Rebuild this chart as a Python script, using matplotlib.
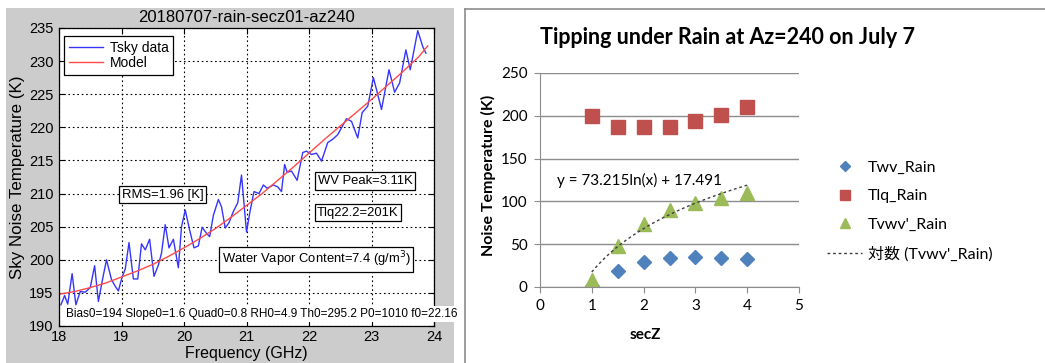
import numpy as np
import matplotlib.pyplot as plt
from matplotlib.lines import Line2D
from matplotlib.patches import Rectangle

# left panel: measured sky noise vs frequency
freq = [18.03, 18.09, 18.14, 18.21, 18.27, 18.34, 18.42, 18.50, 18.57, 18.63,
        18.70, 18.76, 18.84, 18.90, 18.95, 19.01, 19.06, 19.12, 19.19, 19.26,
        19.32, 19.38, 19.45, 19.52, 19.59, 19.64, 19.70, 19.76, 19.83, 19.91,
        19.96, 20.02, 20.09, 20.16, 20.23, 20.29, 20.36, 20.41, 20.47, 20.55,
        20.60, 20.66, 20.72, 20.79, 20.86, 20.92, 21.00, 21.06, 21.12, 21.20,
        21.27, 21.33, 21.43, 21.50, 21.56, 21.61, 21.65, 21.72, 21.81, 21.90,
        21.96, 22.04, 22.12, 22.20, 22.30, 22.38, 22.46, 22.60, 22.68, 22.78,
        22.85, 22.94, 23.03, 23.08, 23.16, 23.28, 23.37, 23.45, 23.55, 23.62,
        23.74, 23.82, 23.87]
tsky = [193.2, 194.6, 193.3, 197.9, 193.2, 195.2, 195.1, 195.8, 199.1, 193.7,
        197.2, 200.0, 197.0, 196.0, 195.3, 197.4, 198.6, 202.6, 197.1, 197.1,
        202.4, 201.5, 203.1, 197.5, 199.2, 201.0, 205.3, 201.8, 203.1, 198.8,
        205.0, 207.5, 204.5, 201.8, 202.1, 204.9, 204.0, 203.5, 206.7, 209.1,
        208.0, 204.8, 205.6, 207.3, 208.6, 212.8, 204.2, 207.5, 210.3, 210.0,
        211.3, 210.8, 211.3, 211.0, 210.3, 214.4, 213.2, 213.4, 212.0, 216.2,
        216.4, 215.9, 216.1, 214.9, 217.7, 218.2, 218.9, 221.3, 220.9, 218.4,
        222.2, 223.2, 227.5, 225.7, 222.7, 228.7, 225.3, 226.7, 231.7, 228.7,
        234.6, 232.2, 231.2]
model_freq = [18.0, 18.25, 18.5, 18.75, 19.0, 19.25, 19.5, 19.75, 20.0, 20.25,
              20.5, 20.75, 21.0, 21.25, 21.5, 21.75, 22.0, 22.25, 22.5, 22.75,
              23.0, 23.25, 23.5, 23.75, 23.9]
model_t = [194.8, 195.2, 195.8, 196.5, 197.4, 198.3, 199.3, 200.5, 201.8, 203.2,
           204.7, 206.4, 208.2, 210.0, 212.0, 214.0, 216.1, 218.2, 220.2, 222.2,
           224.2, 226.3, 228.4, 230.6, 232.3]

# right panel: tipping results
secz = [1, 1.5, 2, 2.5, 3, 3.5, 4]
twv = [1, 19, 29, 34, 35, 34, 33]
tlq = [200, 187, 187, 187, 194, 201, 210]
tvwv = [8, 48, 74, 90, 98.5, 104, 110]
log_a, log_b = 73.215, 17.491

W, H = 1045, 363
fig = plt.figure(figsize=(W / 100, H / 100), dpi=100)
fig.patch.set_facecolor('white')

# gray matlab-like figure panel
fig.patches.append(Rectangle((6 / W, 0), 448 / W, 1 - 8 / H, transform=fig.transFigure,
                             facecolor='#cccccc', edgecolor='none', zorder=-10))
# border of excel chart
fig.lines.append(Line2D([465 / W, 465 / W], [0, 1 - 9 / H], transform=fig.transFigure,
                        color='#8c8c8c', lw=1.2))
fig.lines.append(Line2D([465 / W, 1], [1 - 9 / H, 1 - 9 / H], transform=fig.transFigure,
                        color='#8c8c8c', lw=1.2))

mfont = ['Liberation Sans', 'DejaVu Sans']

ax = fig.add_axes([59 / W, 1 - 326 / H, 375 / W, 298 / H])
ax.plot(freq, tsky, color='#3535ff', lw=1, label='Tsky data')
ax.plot(model_freq, model_t, color='#ff4a4a', lw=1, label='Model')
ax.set_xlim(18, 24)
ax.set_ylim(190, 235)
ax.set_xticks(range(18, 25))
ax.set_yticks(range(190, 236, 5))
ax.grid(True, color='black', linestyle=(0, (1.5, 2.5)), lw=0.8)
ax.tick_params(direction='in', top=True, right=True, length=4, labelsize=10.5)
ax.tick_params(axis='x', pad=3)
ax.tick_params(axis='y', pad=4)
for lab in ax.get_xticklabels() + ax.get_yticklabels():
    lab.set_family(mfont)
for s in ax.spines.values():
    s.set_color('black')
    s.set_linewidth(0.9)
ax.set_title('20180707-rain-secz01-az240', fontsize=12, family=mfont, pad=4)
ax.set_xlabel('Frequency (GHz)', fontsize=11.5, family=mfont, labelpad=1)
ax.set_ylabel('Sky Noise Temperature (K)', fontsize=12.2, family=mfont, labelpad=3)
leg = ax.legend(loc='upper left', bbox_to_anchor=(0.013, 0.973), borderaxespad=0,
                fancybox=False, edgecolor='black', framealpha=1, handlelength=2.5,
                handletextpad=0.45, labelspacing=0.1, borderpad=0.35,
                prop={'family': mfont, 'size': 10})
leg.get_frame().set_linewidth(0.9)

box = dict(boxstyle='square,pad=0.2', facecolor='white', edgecolor='black', lw=0.9)
ax.text(19.0, 209.8, 'RMS=1.96 [K]', fontsize=9.4, family=mfont, va='center', bbox=box)
ax.text(22.14, 211.9, 'WV Peak=3.11K', fontsize=9.4, family=mfont, va='center', bbox=box)
ax.text(22.13, 207.1, 'Tlq22.2=201K', fontsize=9.4, family=mfont, va='center', bbox=box)
ax.text(20.6, 200.1, 'Water Vapor Content=7.4 (g/m$^3$)', fontsize=9.4, family=mfont,
        va='center', bbox=box)
ax.text(18.12, 191.8, 'Bias0=194 Slope0=1.6 Quad0=0.8 RH0=4.9 Th0=295.2 P0=1010 f0=22.16',
        fontsize=8.45, family=mfont, va='center', clip_on=False,
        bbox=dict(boxstyle='square,pad=0.15', facecolor='white', edgecolor='none'))

# right panel
efont = ['Lato', 'Noto Sans CJK JP']
bx = fig.add_axes([540 / W, 1 - 287 / H, 259 / W, 214 / H])
bx.plot(secz, twv, linestyle='none', marker='D', markersize=7, color='#4f81bd', label='Twv_Rain')
bx.plot(secz, tlq, linestyle='none', marker='s', markersize=9.5, color='#c0504d', label='Tlq_Rain')
bx.plot(secz, tvwv, linestyle='none', marker='^', markersize=10.5, color='#9bbb59', label="Tvwv'_Rain")
xs = np.linspace(secz[0], secz[-1], 100)
bx.plot(xs, log_a * np.log(xs) + log_b, color='#404040', lw=1, linestyle=(0, (2, 2)),
        label="対数 (Tvwv'_Rain)")
bx.set_xlim(0, 5)
bx.set_ylim(0, 250)
bx.set_xticks(range(0, 6))
bx.set_yticks(range(0, 251, 50))
bx.yaxis.grid(True, color='#8c8c8c', lw=1)
bx.set_axisbelow(True)
for side in ('top', 'right'):
    bx.spines[side].set_visible(False)
for side in ('left', 'bottom'):
    bx.spines[side].set_color('#8c8c8c')
bx.tick_params(direction='out', length=4, color='#8c8c8c', labelsize=11, pad=5)
for lab in bx.get_xticklabels() + bx.get_yticklabels():
    lab.set_family(efont)
bx.set_xlabel('secZ', fontsize=11, fontweight='bold', family=efont)
bx.set_ylabel('Noise Temperature (K)', fontsize=11.5, fontweight='bold', family=efont)
bx.xaxis.set_label_coords(0.405, -0.19)
bx.yaxis.set_label_coords(-0.17, 0.523)
bx.text(0.33, 125, 'y = 73.215ln(x) + 17.491', fontsize=11, family=efont, va='center')

fig.text(727 / W, 1 - 37 / H, 'Tipping under Rain at Az=240 on July 7', fontsize=15.5,
         fontweight='bold', family=efont, ha='center', va='center')

fig.legend(handles=bx.get_lines(), loc='center left', bbox_to_anchor=(827 / W, 1 - 211 / H),
           frameon=False, borderpad=0, borderaxespad=0, handlelength=2.2, markerscale=0.75,
           handletextpad=0.35, labelspacing=0.9, prop={'family': efont, 'size': 11.5})

fig.savefig('out.png', dpi=100)
